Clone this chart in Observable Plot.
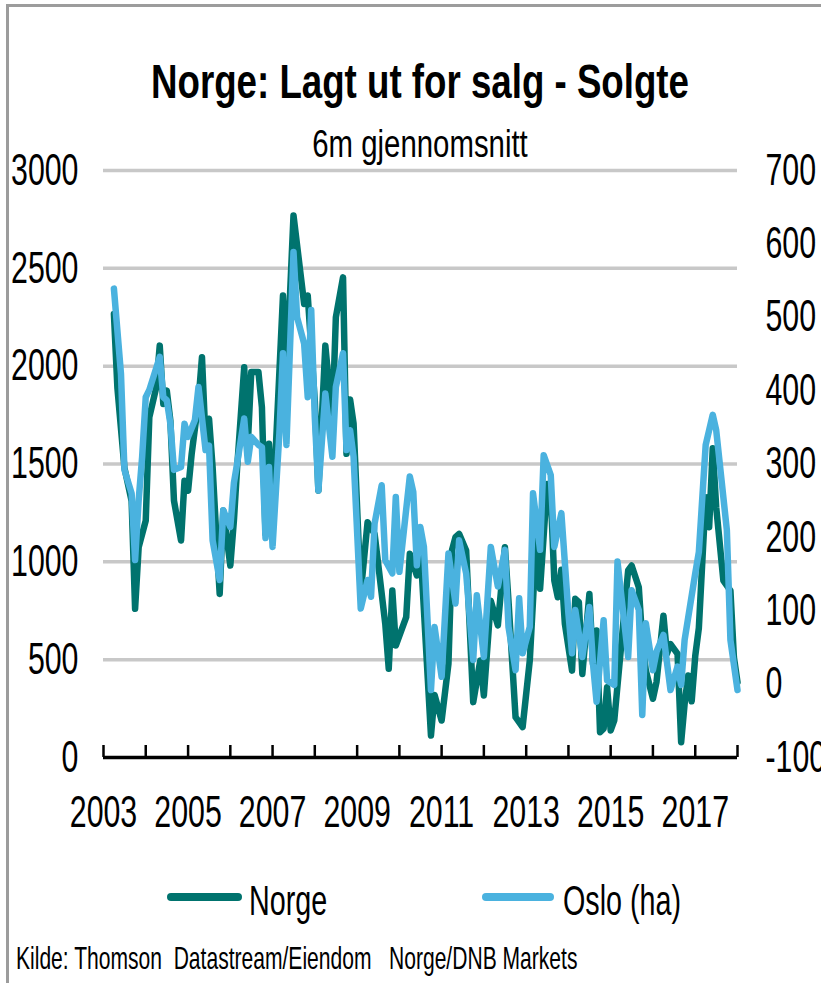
<!DOCTYPE html>
<html>
<head>
<meta charset="utf-8">
<script src="https://cdn.jsdelivr.net/npm/d3@7"></script>
<script src="https://cdn.jsdelivr.net/npm/@observablehq/plot@0.6"></script>
<style>
  html, body { margin: 0; padding: 0; background: #fff; }
  #page { position: relative; width: 821px; height: 983px; overflow: hidden; background: #fff;
          font-family: "Liberation Sans", Arial, sans-serif; }
  .frame-top { position: absolute; left: 6px; top: 4px; width: 815px; height: 3px; background: #9c9c9c; }
  .frame-left { position: absolute; left: 6px; top: 4px; width: 3px; height: 979px; background: #9c9c9c; }
  .t { position: absolute; white-space: pre; line-height: 1; color: #000; }
  .swatch { position: absolute; height: 8px; border-radius: 4px; }
  #chart { position: absolute; left: 0; top: 130px; }
</style>
</head>
<body>
<div id="page">
  <div class="frame-top"></div>
  <div class="frame-left"></div>
  <div class="t" style="left:0;width:840px;text-align:center;top:58px;font-size:45px;font-weight:bold;transform:scale(0.815,1.05);transform-origin:50% 0;">Norge: Lagt ut for salg - Solgte</div>
  <div class="t" style="left:0;width:840px;text-align:center;top:125px;font-size:33px;transform:scale(0.89,1.15);transform-origin:50% 0;">6m gjennomsnitt</div>
  <div id="chart"></div>
  <div class="swatch" style="left:167px;top:893px;width:75px;background:#00736e;"></div>
  <div class="t" style="left:249px;top:879px;font-size:35px;transform:scale(0.82,1.2);transform-origin:0 0;">Norge</div>
  <div class="swatch" style="left:482px;top:893px;width:72px;background:#4ab2df;"></div>
  <div class="t" style="left:563px;top:879px;font-size:35px;transform:scale(0.82,1.2);transform-origin:0 0;">Oslo (ha)</div>
  <div class="t" style="left:16px;top:943px;font-size:27px;transform:scale(0.78,1.17);transform-origin:0 0;">Kilde: Thomson  Datastream/Eiendom   Norge/DNB Markets</div>
</div>
<script>
// ---- Data ----
const norgeMonths = ["2003-04","2003-05","2003-07","2003-09","2003-10","2003-11","2004-01","2004-02","2004-04","2004-05","2004-06","2004-07","2004-08","2004-09","2004-11","2004-12","2005-01","2005-02","2005-04","2005-05","2005-06","2005-07","2005-08","2005-09","2005-10","2005-11","2006-01","2006-02","2006-03","2006-05","2006-06","2006-07","2006-09","2006-10","2006-11","2006-12","2007-01","2007-04","2007-05","2007-07","2007-10","2007-11","2008-01","2008-02","2008-04","2008-06","2008-07","2008-09","2008-10","2008-11","2008-12","2009-02","2009-04","2009-06","2009-09","2009-10","2009-11","2009-12","2010-03","2010-04","2010-06","2010-07","2010-10","2010-11","2011-01","2011-03","2011-04","2011-05","2011-06","2011-08","2011-10","2011-12","2012-01","2012-03","2012-05","2012-07","2012-08","2012-10","2012-12","2013-02","2013-04","2013-05","2013-07","2013-08","2013-09","2013-10","2013-11","2013-12","2014-02","2014-03","2014-04","2014-05","2014-07","2014-08","2014-09","2014-10","2014-11","2014-12","2015-01","2015-02","2015-06","2015-07","2015-09","2015-10","2015-11","2016-01","2016-02","2016-04","2016-05","2016-06","2016-08","2016-09","2016-10","2016-11","2016-12","2017-01","2017-02","2017-04","2017-05","2017-06","2017-07","2017-09","2017-11","2017-12","2018-01"];
const norgeValues = [2267,1890,1480,1310,760,1075,1211,1739,1892,2105,1807,1875,1722,1313,1109,1415,1364,1552,1824,2046,1620,1731,1483,1144,836,1262,981,1211,1483,1994,1600,1970,1970,1790,1143,1603,1228,2361,1950,2770,2318,2361,1824,1364,2105,1722,2250,2454,1552,1830,1707,840,1202,1143,683,453,853,572,717,1041,930,1080,112,320,189,479,1060,1126,1143,1058,283,496,317,801,675,1075,800,206,155,496,1143,862,1398,1347,904,819,960,683,444,811,794,427,836,479,649,129,147,359,138,189,956,981,870,598,444,300,385,725,529,580,529,78,274,419,287,520,662,1330,1177,1580,1279,904,853,512,385];

const osloMonths = ["2003-04","2003-06","2003-07","2003-09","2003-10","2003-11","2003-12","2004-01","2004-02","2004-05","2004-06","2004-07","2004-08","2004-09","2004-11","2004-12","2005-01","2005-03","2005-04","2005-06","2005-07","2005-08","2005-10","2005-11","2006-01","2006-02","2006-03","2006-05","2006-06","2006-07","2006-09","2006-10","2006-11","2006-12","2007-01","2007-03","2007-04","2007-05","2007-07","2007-08","2007-10","2007-11","2007-12","2008-01","2008-02","2008-04","2008-06","2008-07","2008-09","2008-10","2008-11","2008-12","2009-02","2009-04","2009-05","2009-06","2009-08","2009-09","2009-11","2009-12","2010-01","2010-04","2010-05","2010-06","2010-07","2010-08","2010-10","2010-11","2011-01","2011-03","2011-05","2011-06","2011-08","2011-10","2011-11","2012-01","2012-03","2012-05","2012-07","2012-08","2012-10","2012-11","2012-12","2013-02","2013-03","2013-05","2013-06","2013-08","2013-09","2013-11","2014-01","2014-02","2014-03","2014-05","2014-07","2014-08","2014-09","2014-11","2014-12","2015-02","2015-03","2015-06","2015-07","2015-09","2015-10","2015-11","2016-01","2016-02","2016-04","2016-06","2016-08","2016-09","2016-10","2017-01","2017-02","2017-04","2017-06","2017-07","2017-10","2017-11","2018-01"];
const osloValues = [539,423,292,260,169,251,310,391,401,446,391,387,355,292,296,355,337,360,405,319,325,196,142,237,214,274,301,362,303,337,326,323,199,296,187,342,451,326,589,500,464,391,510,364,264,396,310,405,451,319,346,310,103,142,119,219,271,169,151,255,153,283,262,162,214,187,-8,78,10,178,110,196,151,33,121,37,187,133,183,78,19,117,42,78,260,183,312,285,187,233,96,42,101,37,105,28,-24,87,5,-1,167,37,128,101,-42,83,19,44,67,-8,24,-1,60,151,180,326,367,346,210,60,-8];

// Axis ticks / labels
const leftTicks = [0, 500, 1000, 1500, 2000, 2500, 3000];
const rightTicks = [-100, 0, 100, 200, 300, 400, 500, 600, 700];
const tickYears = [2003,2004,2005,2006,2007,2008,2009,2010,2011,2012,2013,2014,2015,2016,2017,2018];
const labelYears = [2003,2005,2007,2009,2011,2013,2015,2017];

// ---- Build ----
const FONT = '"Liberation Sans", Arial, sans-serif';
const parse = d3.utcParse("%Y-%m");
const leftDomain = [leftTicks[0], leftTicks[leftTicks.length - 1]];
const rightDomain = [rightTicks[0], rightTicks[rightTicks.length - 1]];
const toLeft = d3.scaleLinear().domain(rightDomain).range(leftDomain);

const norge = norgeMonths.map((m, i) => ({date: parse(m), value: norgeValues[i]}));
const oslo = osloMonths.map((m, i) => ({date: parse(m), value: osloValues[i]}));
const tickDates = tickYears.map(y => new Date(Date.UTC(y, 0, 1)));
const labelDates = labelYears.map(y => new Date(Date.UTC(y, 0, 1)));
const rightPos = rightTicks.map(v => toLeft(v));
const rightLabel = new Map(rightPos.map((p, i) => [p, String(rightTicks[i])]));

const chart = Plot.plot({
  width: 821,
  height: 707,
  marginLeft: 103,
  marginRight: 84,
  marginTop: 40,
  marginBottom: 80,
  style: {fontFamily: FONT, background: "transparent", color: "#000", overflow: "visible"},
  x: {type: "utc", domain: [tickDates[0], tickDates[tickDates.length - 1]]},
  y: {domain: leftDomain},
  marks: [
    Plot.gridY(leftTicks.slice(1), {stroke: "#c8c8c8", strokeOpacity: 1, strokeWidth: 3.5}),
    Plot.axisY(leftTicks, {anchor: "left", tickSize: 0, tickPadding: 25, fontSize: 37, tickFormat: d => String(d), label: null}),
    Plot.axisY(rightPos, {anchor: "right", tickSize: 0, tickPadding: 28, fontSize: 37, textAnchor: "start",
      tickFormat: d => rightLabel.get(d), label: null}),
    Plot.lineY(norge, {x: "date", y: "value", stroke: "#00736e", strokeWidth: 6.5, strokeLinejoin: "round", strokeLinecap: "round"}),
    Plot.lineY(oslo, {x: "date", y: d => toLeft(d.value), stroke: "#4ab2df", strokeWidth: 6.5, strokeLinejoin: "round", strokeLinecap: "round"}),
    Plot.ruleX(tickDates, {x: d => d, y1: leftDomain[0], y2: leftDomain[0], insetTop: -12, stroke: "#000", strokeWidth: 2.5}),
    Plot.ruleY([leftDomain[0]], {stroke: "#000", strokeWidth: 3.5}),
    Plot.axisX(labelDates, {anchor: "bottom", tickSize: 0, tickPadding: 38, fontSize: 37, tickFormat: d3.utcFormat("%Y"), label: null})
  ]
});

// Narrow, tall type like the original (Arial Narrow look): scale each tick label about its anchor
const SX = 0.82, SY = 1.2;
chart.querySelectorAll('g[aria-label$="tick label"] text').forEach(t => {
  const tr = t.getAttribute("transform");
  if (tr && tr.includes("translate")) {
    t.setAttribute("transform", `${tr} scale(${SX},${SY})`);
  } else {
    const x = parseFloat(t.getAttribute("x")) || 0;
    const yAttr = t.getAttribute("y") || "0";
    const yNum = /em$/.test(yAttr) ? 0 : (parseFloat(yAttr) || 0);
    t.setAttribute("x", 0);
    if (!/em$/.test(yAttr)) t.setAttribute("y", 0);
    t.setAttribute("transform", `translate(${x},${yNum}) scale(${SX},${SY})`);
  }
});
document.getElementById("chart").appendChild(chart);
</script>
</body>
</html>
